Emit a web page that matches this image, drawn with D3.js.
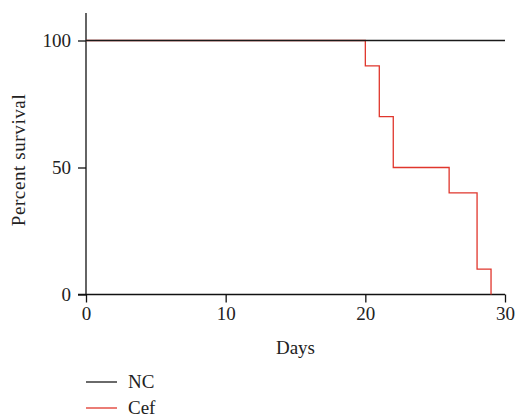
<!DOCTYPE html>
<html>
<head>
<meta charset="utf-8">
<script src="https://cdn.jsdelivr.net/npm/d3@7"></script>
<style>
  body { margin: 0; background: #fff; }
  svg text { font-family: "Liberation Serif", "DejaVu Serif", serif; fill: #222; }
</style>
</head>
<body>
<svg id="chart" width="518" height="417"></svg>
<script>
const width = 518;
const height = 417;

// survival data (step functions)
const xTicks = [0, 10, 20, 30];
const yTicks = [0, 50, 100];
const seriesNames = ["NC", "Cef"];
const seriesColors = ["#1a1a1a", "#e0362c"];
const ncDays = [0, 30];
const ncSurvival = [100, 100];
const cefDays = [0, 20, 21, 22, 26, 28, 29];
const cefSurvival = [100, 90, 70, 50, 40, 10, 0];

const margin = {left: 86, right: 13, top: 13};
const fontSize = 19;

const svg = d3.select("#chart");

const x = d3.scaleLinear().domain([0, 30]).range([margin.left, width - margin.right]);
const y = d3.scaleLinear().domain([0, 100]).range([294.5, 40.5]);

// axes
const xAxis = svg.append("g")
  .attr("transform", `translate(0,${y(0)})`)
  .call(d3.axisBottom(x).tickValues(xTicks).tickSize(8).tickPadding(4).tickSizeOuter(0));
const yAxis = svg.append("g")
  .attr("transform", `translate(${x(0)},0)`)
  .call(d3.axisLeft(y).tickValues(yTicks).tickSize(8).tickPadding(7).tickSizeOuter(0));

[xAxis, yAxis].forEach(a => {
  a.attr("font-size", fontSize).attr("font-family", "Liberation Serif");
  a.selectAll("text").attr("fill", "#222");
  a.selectAll("line").attr("stroke", "#111").attr("stroke-width", 1.3);
  a.select(".domain").attr("stroke", "#111").attr("stroke-width", 1.3);
});
// y axis line runs above 100, x axis line starts at the y tick
yAxis.select(".domain").attr("d", `M0,${margin.top}V${y(0)}`);
xAxis.select(".domain").attr("d", `M${x(0) - 8},0H${x(30)}`);

// axis titles
svg.append("text")
  .attr("x", (x(0) + x(30)) / 2)
  .attr("y", 354)
  .attr("text-anchor", "middle")
  .attr("font-size", fontSize)
  .text("Days");

svg.append("text")
  .attr("transform", "translate(25,160) rotate(-90)")
  .attr("text-anchor", "middle")
  .attr("font-size", fontSize)
  .attr("letter-spacing", 0.6)
  .text("Percent survival");

// step lines
const line = d3.line()
  .x(d => x(d[0]))
  .y(d => y(d[1]))
  .curve(d3.curveStepAfter);

const series = [
  {days: cefDays, surv: cefSurvival, color: seriesColors[1]},
  {days: ncDays, surv: ncSurvival, color: seriesColors[0]}
];

series.forEach(s => {
  svg.append("path")
    .datum(s.days.map((d, i) => [d, s.surv[i]]))
    .attr("d", line)
    .attr("fill", "none")
    .attr("stroke", s.color)
    .attr("stroke-width", 1.3);
});

// legend
const legend = svg.append("g").attr("transform", "translate(86,382)");
seriesNames.forEach((name, i) => {
  const g = legend.append("g").attr("transform", `translate(0,${i * 26})`);
  g.append("line")
    .attr("x1", 0).attr("x2", 31)
    .attr("y1", 0).attr("y2", 0)
    .attr("stroke", seriesColors[i])
    .attr("stroke-width", 1.3);
  g.append("text")
    .attr("x", 42)
    .attr("y", 6)
    .attr("font-size", fontSize)
    .text(name);
});
</script>
</body>
</html>
